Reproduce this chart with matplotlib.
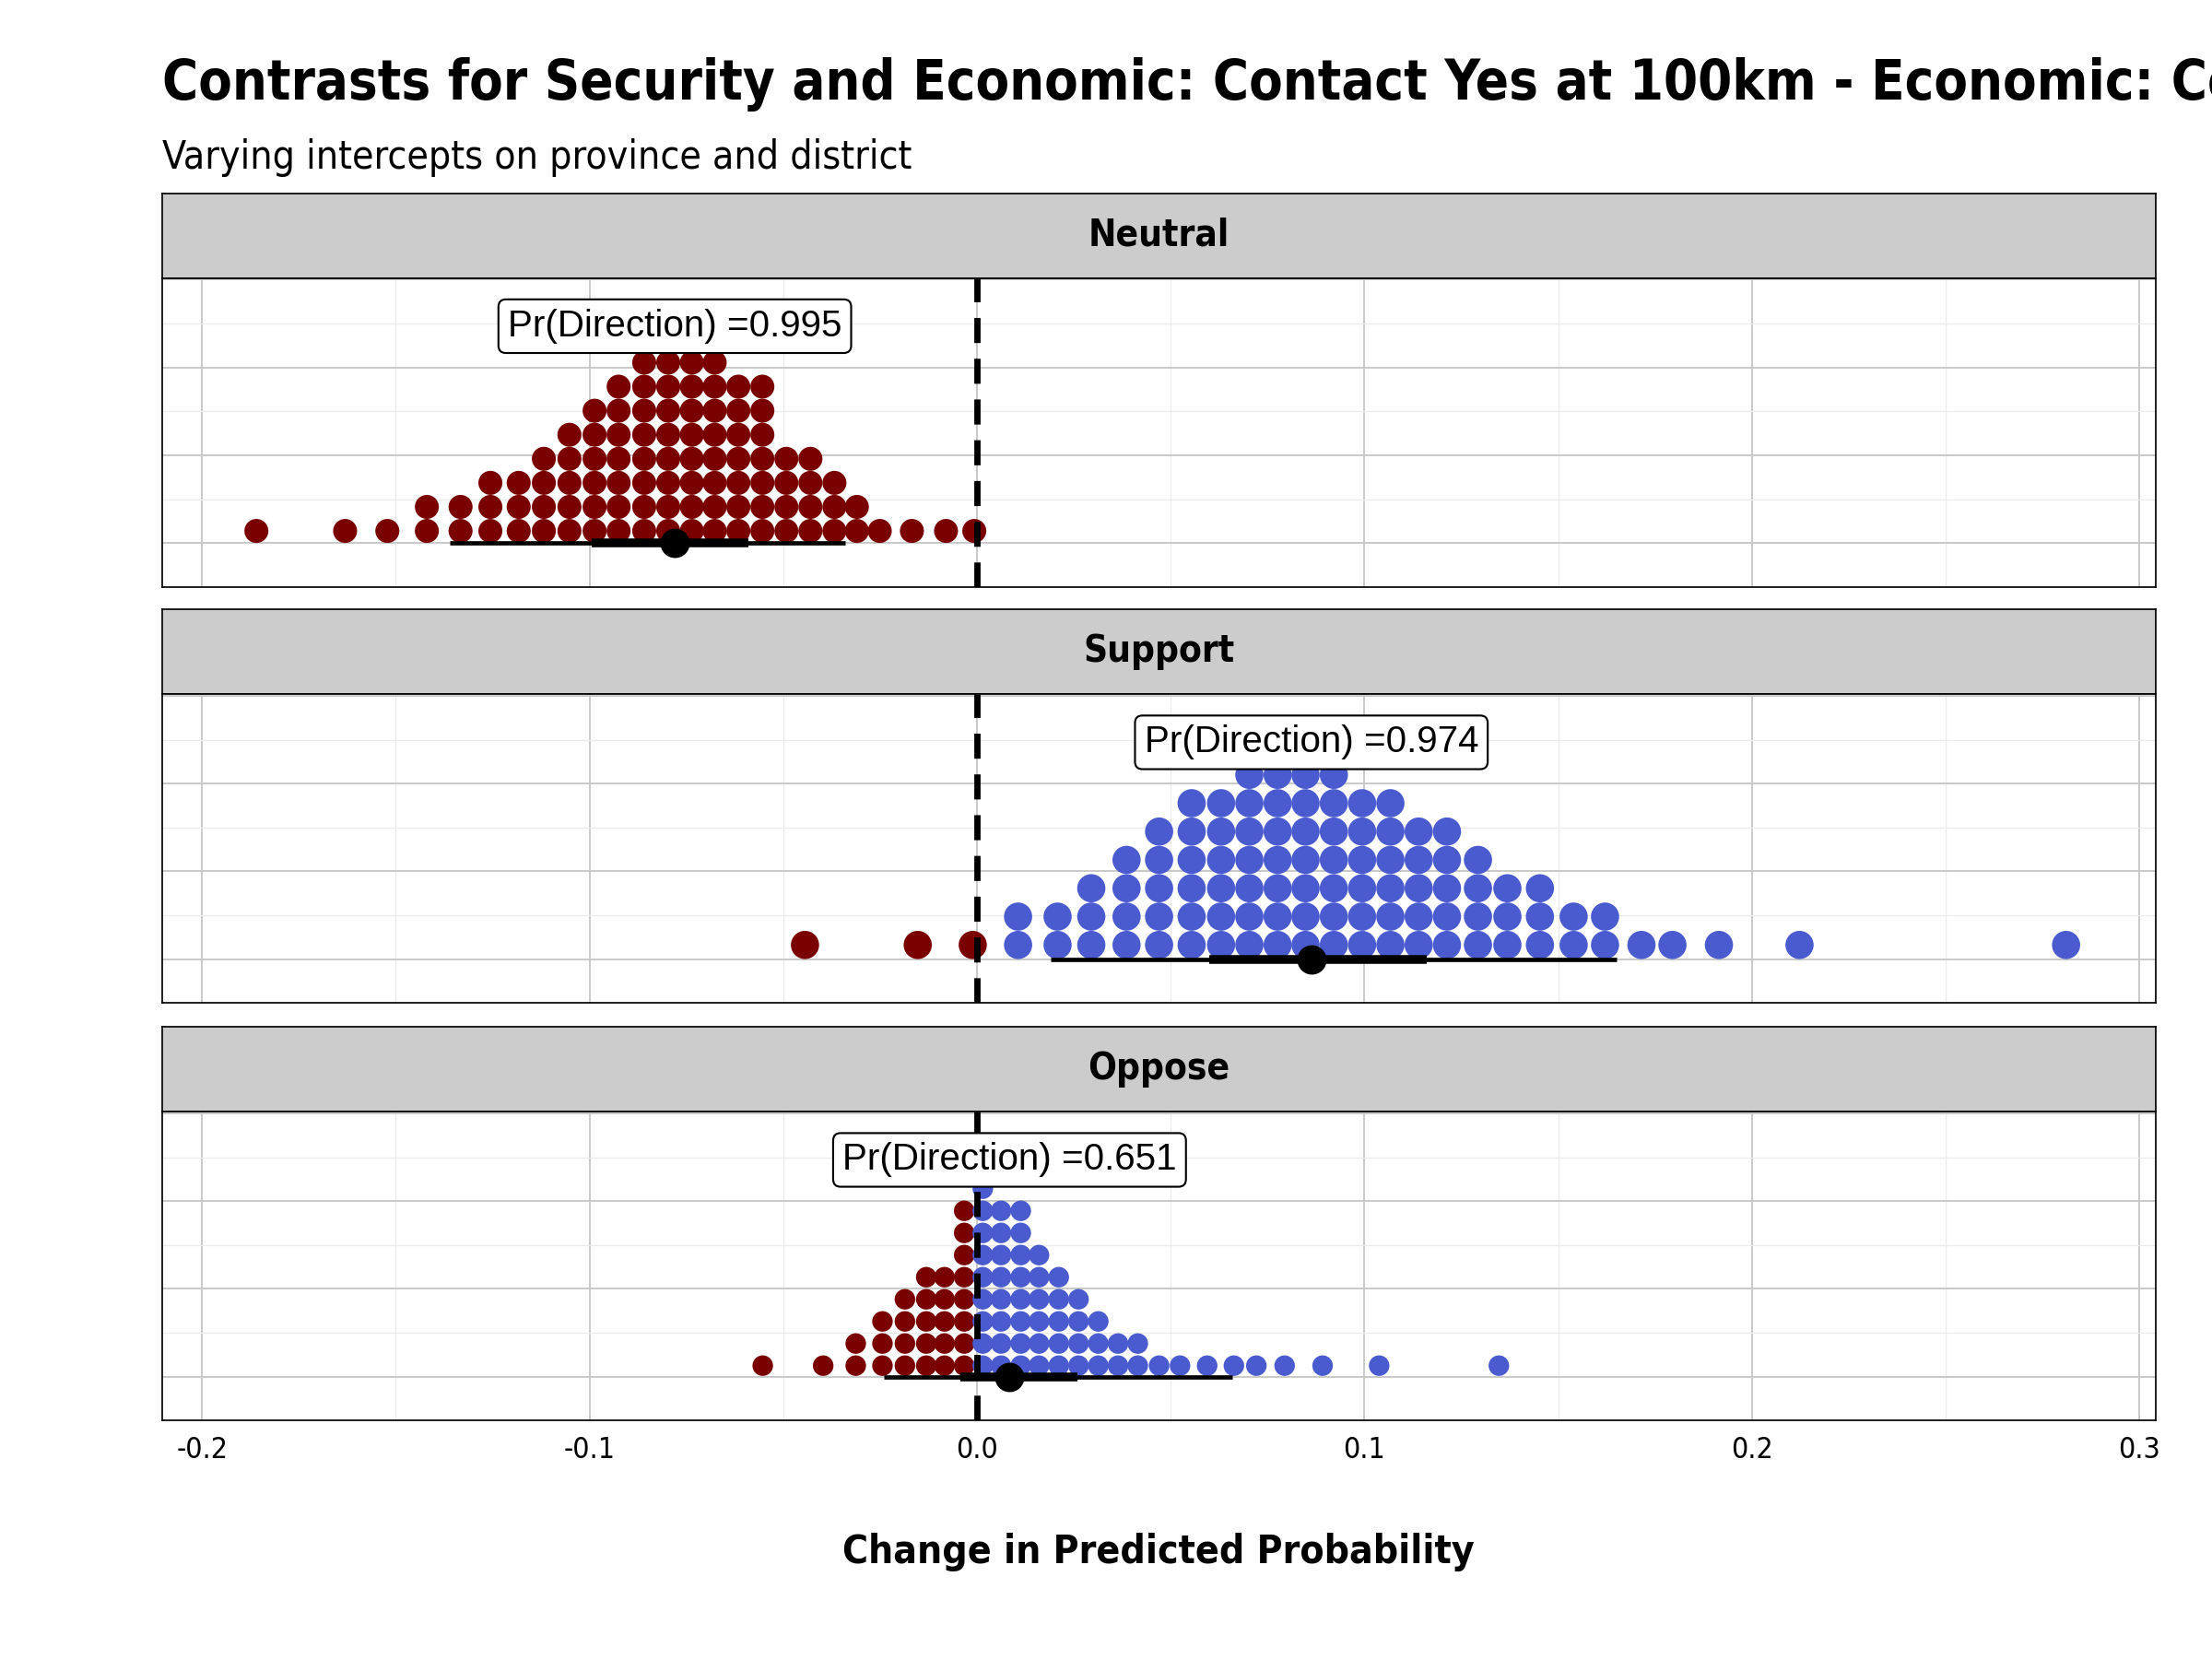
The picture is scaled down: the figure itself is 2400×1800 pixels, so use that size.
import numpy as np
import matplotlib.pyplot as plt
from matplotlib.ticker import MultipleLocator

# Datos: posiciones de columnas (x) y numero de puntos por columna
neutral_x = [-0.1860, -0.1631, -0.1522, -0.1420, -0.1333, -0.1256, -0.1183, -0.1118,
             -0.1052, -0.0987, -0.0925, -0.0859, -0.0797, -0.0736, -0.0677, -0.0616,
             -0.0554, -0.0492, -0.0430, -0.0368, -0.0310, -0.0251, -0.0168, -0.0080, -0.0007]
neutral_n = [1, 1, 1, 2, 2, 3, 3, 4, 5, 6, 7, 8, 8, 8, 8, 7, 7, 4, 4, 3, 2, 1, 1, 1, 1]

support_x = [-0.0444, -0.0153, -0.0011, 0.0106, 0.0208, 0.0295, 0.0386, 0.0470,
             0.0554, 0.0630, 0.0703, 0.0776, 0.0848, 0.0921, 0.0994, 0.1067, 0.1140,
             0.1213, 0.1293, 0.1369, 0.1453, 0.1540, 0.1621, 0.1715, 0.1795, 0.1915,
             0.2123, 0.2811]
support_n = [1, 1, 1, 2, 2, 3, 4, 5, 6, 6, 7, 7, 7, 7, 6, 6, 5, 5, 4, 3, 3, 2, 2,
             1, 1, 1, 1, 1]
support_neg = 3  # primeras columnas negativas

oppose_x = [-0.0553, -0.0397, -0.0313, -0.0244, -0.0186, -0.0131, -0.0084, -0.0033,
            0.0015, 0.0062, 0.0113, 0.0160, 0.0211, 0.0262, 0.0313, 0.0364, 0.0415,
            0.0470, 0.0524, 0.0594, 0.0663, 0.0721, 0.0794, 0.0892, 0.1038, 0.1347]
oppose_n = [1, 1, 2, 3, 4, 5, 5, 8, 9, 8, 8, 6, 5, 4, 3, 2, 2, 1, 1, 1, 1, 1, 1, 1, 1, 1]
oppose_neg = 8

paneles = ['Neutral', 'Support', 'Oppose']
estimado = [-0.078, 0.0863, 0.0084]
int_66 = [(-0.0995, -0.059), (0.060, 0.116), (-0.0044, 0.026)]
int_95 = [(-0.136, -0.034), (0.019, 0.165), (-0.024, 0.066)]
pr_dir = ['0.995', '0.974', '0.651']

rojo = '#7A0000'
azul = '#4A5BD0'

plt.rcParams['font.family'] = ['Liberation Sans Narrow', 'DejaVu Sans']
plt.rcParams['font.stretch'] = 'condensed'

H = 1176.0
W = 1568.0
fig = plt.figure(figsize=(15.68, 11.76), dpi=2400 / 15.68)

fig.text(115 / W, 1 - 60 / H, 'Contrasts for Security and Economic: Contact Yes at 100km - '
         'Economic: Contact No at 100km', fontsize=28, fontweight='bold', va='center',
         ha='left')
fig.text(115 / W, 1 - 112 / H, 'Varying intercepts on province and district',
         fontsize=20, va='center', ha='left')

strips = [137, 432, 728]
datos = [(neutral_x, neutral_n, len(neutral_x), 0.274, 150),
         (support_x, support_n, support_neg, 0.323, 207),
         (oppose_x, oppose_n, oppose_neg, 0.252, 110)]

for i, nombre in enumerate(paneles):
    top = strips[i]
    # tira del titulo
    sax = fig.add_axes([115 / W, 1 - (top + 60) / H, 1413 / W, 60 / H])
    sax.set_facecolor('#CCCCCC')
    sax.set_xticks([])
    sax.set_yticks([])
    for s in sax.spines.values():
        s.set_linewidth(0.8)
    sax.text(0.5, 0.5, nombre, ha='center', va='center', fontsize=19,
             fontweight='bold', transform=sax.transAxes)

    ax = fig.add_axes([115 / W, 1 - (top + 279) / H, 1413 / W, 219 / H])
    ax.set_xlim(-0.2103, 0.3042)
    ax.set_ylim(-0.5, 3.02)
    ax.xaxis.set_major_locator(MultipleLocator(0.1))
    ax.xaxis.set_minor_locator(MultipleLocator(0.05))
    ax.yaxis.set_major_locator(MultipleLocator(1))
    ax.yaxis.set_minor_locator(MultipleLocator(0.5))
    ax.grid(which='major', color='#C8C8C8', linewidth=0.9)
    ax.grid(which='minor', color='#EBEBEB', linewidth=0.6)
    ax.tick_params(which='both', left=False, labelleft=False, length=0)
    for s in ax.spines.values():
        s.set_linewidth(0.8)

    xs, ns, nneg, paso, tam = datos[i]
    px, py, pc = [], [], []
    for j, (x, n) in enumerate(zip(xs, ns)):
        for k in range(n):
            px.append(x)
            py.append((k + 0.5) * paso)
            pc.append(rojo if j < nneg else azul)
    ax.scatter(px, py, s=tam, c=pc, linewidths=0, zorder=2)

    ax.axvline(0, color='black', linewidth=3.2, linestyle=(0, (4, 2.5)), zorder=3)
    ax.plot(int_95[i], [0, 0], color='black', linewidth=2.2, zorder=4,
            solid_capstyle='butt')
    ax.plot(int_66[i], [0, 0], color='black', linewidth=4.5, zorder=4,
            solid_capstyle='butt')
    ax.plot(estimado[i], 0, 'o', color='black', markersize=14, zorder=5)
    ax.text(estimado[i], 2.47, 'Pr(Direction) =' + pr_dir[i], ha='center', va='center',
            fontsize=19, family=['Liberation Sans', 'DejaVu Sans'], zorder=6,
            bbox=dict(boxstyle='round,pad=0.25,rounding_size=0.2', fc='white',
                      ec='black', lw=1))

    if i < 2:
        ax.tick_params(labelbottom=False)
    else:
        ax.set_xticks([-0.2, -0.1, 0.0, 0.1, 0.2, 0.3])
        ax.set_xticklabels(['-0.2', '-0.1', '0.0', '0.1', '0.2', '0.3'], fontsize=15)
        ax.tick_params(axis='x', pad=8)

fig.text(821 / W, 1 - 1100 / H, 'Change in Predicted Probability', ha='center',
         va='center', fontsize=20, fontweight='bold')

fig.savefig('out.png', dpi=2400 / 15.68)
